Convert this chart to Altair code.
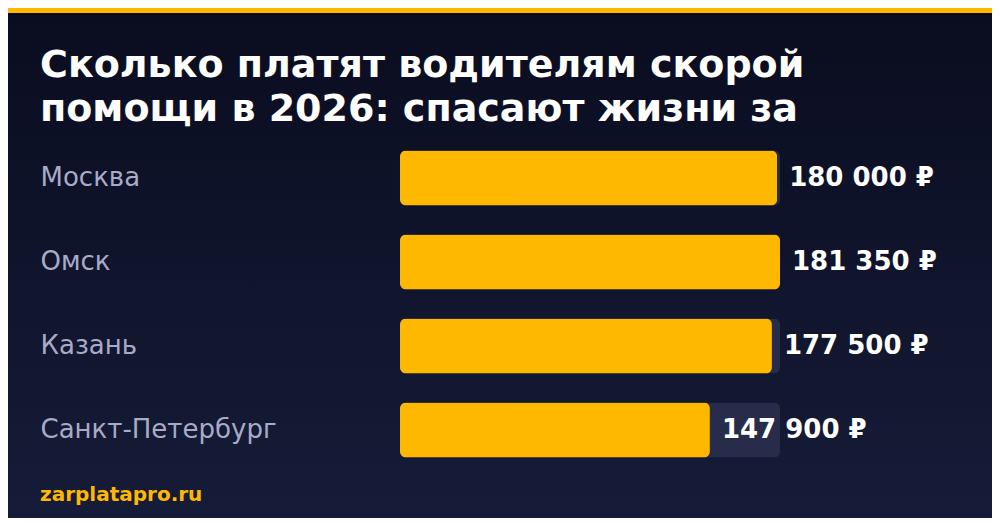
import altair as alt
import pandas as pd

# ---- data ----
cities = ["Москва", "Омск", "Казань", "Санкт-Петербург"]
salaries = [180000, 181350, 177500, 147900]
title_lines = ["Сколько платят водителям скорой", "помощи в 2026: спасают жизни за"]
source = "zarplatapro.ru"

labels = [f"{v:,}".replace(",", " ") + " ₽" for v in salaries]
df = pd.DataFrame({
    "city": cities,
    "salary": salaries,
    "label": labels,
    "track": [max(salaries)] * len(salaries),
})

# ---- layout (pixels) ----
PAD_L, PAD_T, PAD_R, PAD_B = 392, 128, 212, 46
W, H = 380, 336
TOTAL_W, TOTAL_H = PAD_L + W + PAD_R, PAD_T + H + PAD_B

AMBER = "#FFB800"
TRACK = "#272c4a"
FONT = "DejaVu Sans"

xscale = alt.Scale(domain=[0, max(salaries)], nice=False, zero=True)
yscale = alt.Scale(domain=cities, paddingInner=0.345, paddingOuter=0.1725)

one = pd.DataFrame({"k": [0]})

bg = alt.Chart(one).mark_rect(
    color=alt.Gradient(
        gradient="linear",
        stops=[alt.GradientStop(color="#0a0d1f", offset=0),
               alt.GradientStop(color="#161b38", offset=1)],
        x1=0, x2=0, y1=0, y2=1,
    )
).encode(
    x=alt.value(-PAD_L), x2=alt.value(TOTAL_W - PAD_L),
    y=alt.value(-PAD_T), y2=alt.value(TOTAL_H - PAD_T),
)

stripe = alt.Chart(one).mark_rect(color=AMBER).encode(
    x=alt.value(-PAD_L), x2=alt.value(TOTAL_W - PAD_L),
    y=alt.value(-PAD_T), y2=alt.value(-PAD_T + 5),
)

yaxis = alt.Axis(
    title=None, domain=False, ticks=False, tickSize=0, grid=False,
    labelAlign="left", labelBaseline="middle", labelPadding=360,
    labelFontSize=26, labelColor="#a8abc8", labelFont=FONT, labelLimit=400,
    zindex=1,
)

track = alt.Chart(df).mark_bar(color=TRACK, cornerRadius=6).encode(
    x=alt.X("track:Q", scale=xscale, axis=None),
    y=alt.Y("city:N", scale=yscale, sort=cities, axis=yaxis),
)

bars = alt.Chart(df).mark_bar(color=AMBER, cornerRadius=6).encode(
    x=alt.X("salary:Q", scale=xscale, axis=None),
    y=alt.Y("city:N", scale=yscale, sort=cities, axis=yaxis),
)

values = alt.Chart(df).mark_text(
    align="left", baseline="middle", dx=12,
    font=FONT, fontWeight="bold", fontSize=26, color="white",
).encode(
    x=alt.X("salary:Q", scale=xscale, axis=None),
    y=alt.Y("city:N", scale=yscale, sort=cities, axis=yaxis),
    text="label:N",
)

title = alt.Chart(one).mark_text(
    align="left", baseline="alphabetic", lineHeight=44,
    font=FONT, fontWeight="bold", fontSize=38, color="white",
).encode(
    x=alt.value(-360), y=alt.value(-59), text=alt.value(title_lines),
)

footer = alt.Chart(one).mark_text(
    align="left", baseline="alphabetic",
    font=FONT, fontWeight="bold", fontSize=20, color=AMBER,
).encode(
    x=alt.value(-360), y=alt.value(365), text=alt.value(source),
)

chart = alt.layer(bg, stripe, track, bars, values, title, footer).properties(
    width=W, height=H,
    autosize=alt.AutoSizeParams(type="none"),
    padding={"left": PAD_L, "top": PAD_T, "right": PAD_R, "bottom": PAD_B},
    background="#10142b",
).configure_view(strokeWidth=0)

chart.save("out.html", embed_options={"renderer": "svg", "actions": False})
